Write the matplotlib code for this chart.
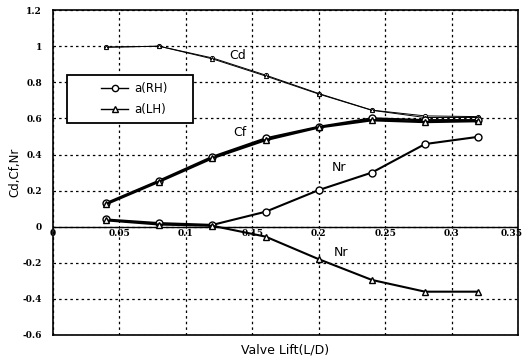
import matplotlib.pyplot as plt
from matplotlib.lines import Line2D
from matplotlib.patches import Rectangle

# valve lift (L/D)
lift = [0.04, 0.08, 0.12, 0.16, 0.20, 0.24, 0.28, 0.32]

# discharge coefficient
cd_rh = [0.995, 1.0, 0.935, 0.84, 0.738, 0.646, 0.614, 0.61]
cd_lh = [0.995, 1.0, 0.93, 0.835, 0.735, 0.645, 0.605, 0.605]

# flow coefficient
cf_rh = [0.13, 0.255, 0.387, 0.489, 0.553, 0.60, 0.59, 0.59]
cf_lh = [0.125, 0.25, 0.38, 0.48, 0.55, 0.59, 0.58, 0.585]

# swirl / tumble number
nr_rh = [0.04, 0.02, 0.01, 0.083, 0.203, 0.30, 0.458, 0.498]
nr_lh = [0.035, 0.012, 0.005, -0.055, -0.18, -0.295, -0.36, -0.36]

xticks = [0, 0.05, 0.1, 0.15, 0.2, 0.25, 0.3, 0.35]
xtick_labels = ["0", "0.05", "0.1", "0.15", "0.2", "0.25", "0.3", "0.35"]
yticks = [1.2, 1.0, 0.8, 0.6, 0.4, 0.2, 0, -0.2, -0.4, -0.6]
ytick_labels = ["1.2", "1", "0.8", "0.6", "0.4", "0.2", "0", "-0.2", "-0.4", "-0.6"]

fig = plt.figure(figsize=(5.27, 3.62), dpi=100)
ax = fig.add_axes([0.1006, 0.0746, 0.8824, 0.8974])

ax.set_xlim(0, 0.35)
ax.set_ylim(-0.6, 1.2)
ax.set_xticks(xticks)
ax.set_xticklabels([])
ax.set_yticks(yticks)
ax.set_yticklabels(ytick_labels, fontsize=6.5, fontweight="bold", family="DejaVu Serif")
ax.tick_params(axis="both", length=0)
ax.tick_params(axis="y", pad=8)
ax.tick_params(axis="x", pad=0)

ax.grid(True, color="black", linestyle=(0, (2, 2.5)), linewidth=0.9)
ax.set_axisbelow(True)
for sp in ax.spines.values():
    sp.set_linewidth(1.2)
ax.axhline(0, color="black", linewidth=1.0, zorder=1)

# x tick labels sit just under the zero line; the last one is kept inside the figure
for x, lab in zip(xticks, xtick_labels):
    ha = "right" if x == xticks[-1] else "center"
    xpos = x + 0.0035 if x == xticks[-1] else x
    ax.text(xpos, -0.012, lab, ha=ha, va="top", fontsize=6.5,
            fontweight="bold", family="DejaVu Serif")

k = "black"
# Cd: thin lines, small markers
ax.plot(lift, cd_rh, color=k, lw=0.7, marker="o", ms=3, mfc="white", mec=k, mew=0.7, zorder=3)
ax.plot(lift, cd_lh, color=k, lw=0.7, marker="^", ms=3, mfc="white", mec=k, mew=0.7, zorder=3)
# Cf: heavy lines
ax.plot(lift, cf_rh, color=k, lw=1.7, marker="o", ms=5, mfc="white", mec=k, mew=1.0, zorder=3)
ax.plot(lift, cf_lh, color=k, lw=1.7, marker="^", ms=5, mfc="white", mec=k, mew=1.0, zorder=3)
# Nr
ax.plot(lift, nr_rh, color=k, lw=1.5, marker="o", ms=5, mfc="white", mec=k, mew=1.0, zorder=3)
ax.plot(lift, nr_lh, color=k, lw=1.5, marker="^", ms=5, mfc="white", mec=k, mew=1.0, zorder=3)

ax.text(0.139, 0.95, "Cd", fontsize=9, ha="center", va="center")
ax.text(0.141, 0.52, "Cf", fontsize=9, ha="center", va="center")
ax.text(0.215, 0.33, "Nr", fontsize=9, ha="center", va="center")
ax.text(0.217, -0.145, "Nr", fontsize=9, ha="center", va="center")

# legend box drawn separately so the entries can sit centred in a wide frame
ax.add_patch(Rectangle((0.03, 0.652), 0.27, 0.148, transform=ax.transAxes,
                       facecolor="white", edgecolor="black", linewidth=1.3, zorder=4))
handles = [
    Line2D([], [], color=k, lw=1.0, marker="o", ms=4.5, mfc="white", mec=k),
    Line2D([], [], color=k, lw=1.0, marker="^", ms=4.5, mfc="white", mec=k),
]
leg = ax.legend(handles, ["a(RH)", "a(LH)"], loc="center",
                bbox_to_anchor=(0.03 + 0.135 + 0.01, 0.652 + 0.074), fontsize=8.5,
                frameon=False, handlelength=2.3, handletextpad=0.5,
                borderaxespad=0, labelspacing=0.7)
leg.set_zorder(5)

ax.set_xlabel("Valve Lift(L/D)", fontsize=9, labelpad=6)
ax.set_ylabel("Cd,Cf,Nr", fontsize=8.5)
ax.yaxis.set_label_coords(-0.068, 0.5)

fig.savefig("out.png", dpi=100)
